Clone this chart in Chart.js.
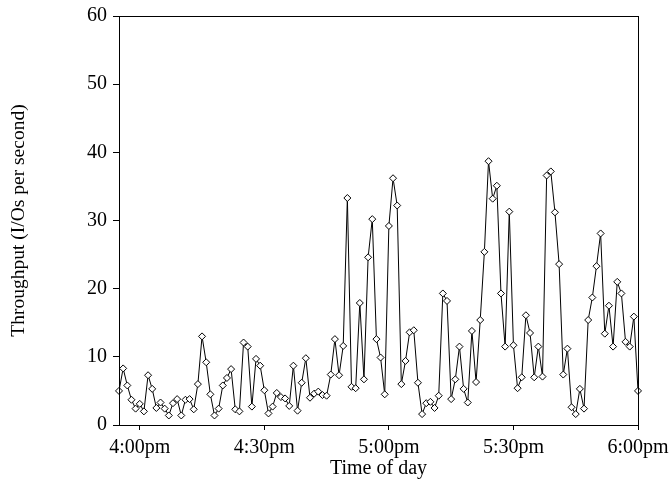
<!DOCTYPE html>
<html>
<head>
<meta charset="utf-8">
<script src="https://cdn.jsdelivr.net/npm/chart.js@4"></script>
<style>
  html, body { margin: 0; padding: 0; background: #fff; }
  #wrap { width: 670px; height: 481px; }
</style>
</head>
<body>
<div id="wrap"><canvas id="myChart" width="670" height="481"></canvas></div>
<script>
// one sample per minute, starting at 3:55pm
var startLabel = "3:55pm";
var throughput = [
    5.0, 8.3, 5.8, 3.7, 2.4, 3.1, 2.0, 7.3, 5.3, 2.5,
    3.3, 2.4, 1.4, 3.2, 3.8, 1.4, 3.7, 3.8, 2.3, 6.0,
    13.0, 9.2, 4.5, 1.4, 2.4, 5.8, 6.9, 8.2, 2.3, 2.0,
    12.1, 11.5, 2.7, 9.7, 8.7, 5.1, 1.7, 2.7, 4.7, 4.1,
    3.9, 2.8, 8.7, 2.1, 6.2, 9.8, 4.0, 4.6, 4.9, 4.4,
    4.3, 7.4, 12.6, 7.3, 11.6, 33.3, 5.6, 5.4, 17.9, 6.7,
    24.6, 30.2, 12.6, 9.9, 4.5, 29.2, 36.2, 32.2, 6.0, 9.4,
    13.6, 13.9, 6.2, 1.6, 3.2, 3.4, 2.5, 4.3, 19.3, 18.2,
    3.8, 6.7, 11.5, 5.3, 3.3, 13.8, 6.3, 15.4, 25.4, 38.7,
    33.2, 35.1, 19.3, 11.5, 31.3, 11.7, 5.4, 7.0, 16.1, 13.5,
    7.0, 11.5, 7.1, 36.6, 37.2, 31.2, 23.6, 7.4, 11.2, 2.6,
    1.6, 5.3, 2.4, 15.4, 18.7, 23.3, 28.1, 13.4, 17.5, 11.5,
    21.0, 19.3, 12.2, 11.5, 15.9, 5.0
];
var tickMinutes = [5, 35, 65, 95, 125];
var tickLabels = ["4:00pm", "4:30pm", "5:00pm", "5:30pm", "6:00pm"];
var yTicks = [0, 10, 20, 30, 40, 50, 60];

var points = [];
throughput.forEach((v, i) => {
    points.push({ x: i, y: v });
});

const serif = "'Liberation Serif', 'Times New Roman', serif";

// box around the plot area
const frame = {
    id: "frame",
    afterDraw(chart) {
        const a = chart.chartArea;
        const ctx = chart.ctx;
        ctx.save();
        ctx.strokeStyle = "#000";
        ctx.lineWidth = 1;
        ctx.strokeRect(Math.round(a.left) + 0.5, Math.round(a.top) + 0.5,
            Math.round(a.right - a.left), Math.round(a.bottom - a.top));
        ctx.restore();
    }
};

new Chart("myChart", {
    type: "line",
    data: {
        datasets: [{
            data: points,
            borderColor: "#000",
            borderWidth: 1,
            pointStyle: "rectRot",
            pointRadius: 3.5,
            pointBackgroundColor: "#fff",
            pointBorderColor: "#000",
            pointBorderWidth: 1,
            tension: 0,
            clip: false
        }]
    },
    options: {
        responsive: false,
        animation: false,
        events: [],
        layout: { padding: { left: 0, top: 16, right: 32, bottom: 0 } },
        plugins: {
            legend: { display: false },
            tooltip: { enabled: false }
        },
        scales: {
            x: {
                type: "linear",
                min: 0,
                max: 125,
                afterFit: s => {
                    s.height = 56;
                    s.paddingLeft = 0;
                    s.paddingRight = 0;
                },
                afterBuildTicks: s => {
                    s.ticks = tickMinutes.map(m => ({ value: m }));
                },
                ticks: {
                    autoSkip: false,
                    maxRotation: 0,
                    padding: 6,
                    color: "#000",
                    font: { family: serif, size: 20 },
                    callback: (v) => tickLabels[tickMinutes.indexOf(v)]
                },
                grid: { drawOnChartArea: false, drawTicks: true, tickLength: 5, color: "#000" },
                border: { display: true, color: "#000" },
                title: {
                    display: true,
                    text: "Time of day",
                    color: "#000",
                    font: { family: serif, size: 20 },
                    padding: { top: 0, bottom: 0 }
                }
            },
            y: {
                min: 0,
                max: 60,
                afterFit: s => {
                    s.width = 119;
                    s.paddingTop = 0;
                    s.paddingBottom = 0;
                },
                afterBuildTicks: s => {
                    s.ticks = yTicks.map(v => ({ value: v }));
                },
                ticks: {
                    padding: 6,
                    color: "#000",
                    font: { family: serif, size: 20 }
                },
                grid: { drawOnChartArea: false, drawTicks: true, tickLength: 6, color: "#000" },
                border: { display: true, color: "#000" },
                title: {
                    display: true,
                    text: "Throughput (I/Os per second)",
                    color: "#000",
                    font: { family: serif, size: 19.5 },
                    padding: { top: 7, bottom: 0 }
                }
            }
        }
    },
    plugins: [frame]
});
</script>
</body>
</html>
